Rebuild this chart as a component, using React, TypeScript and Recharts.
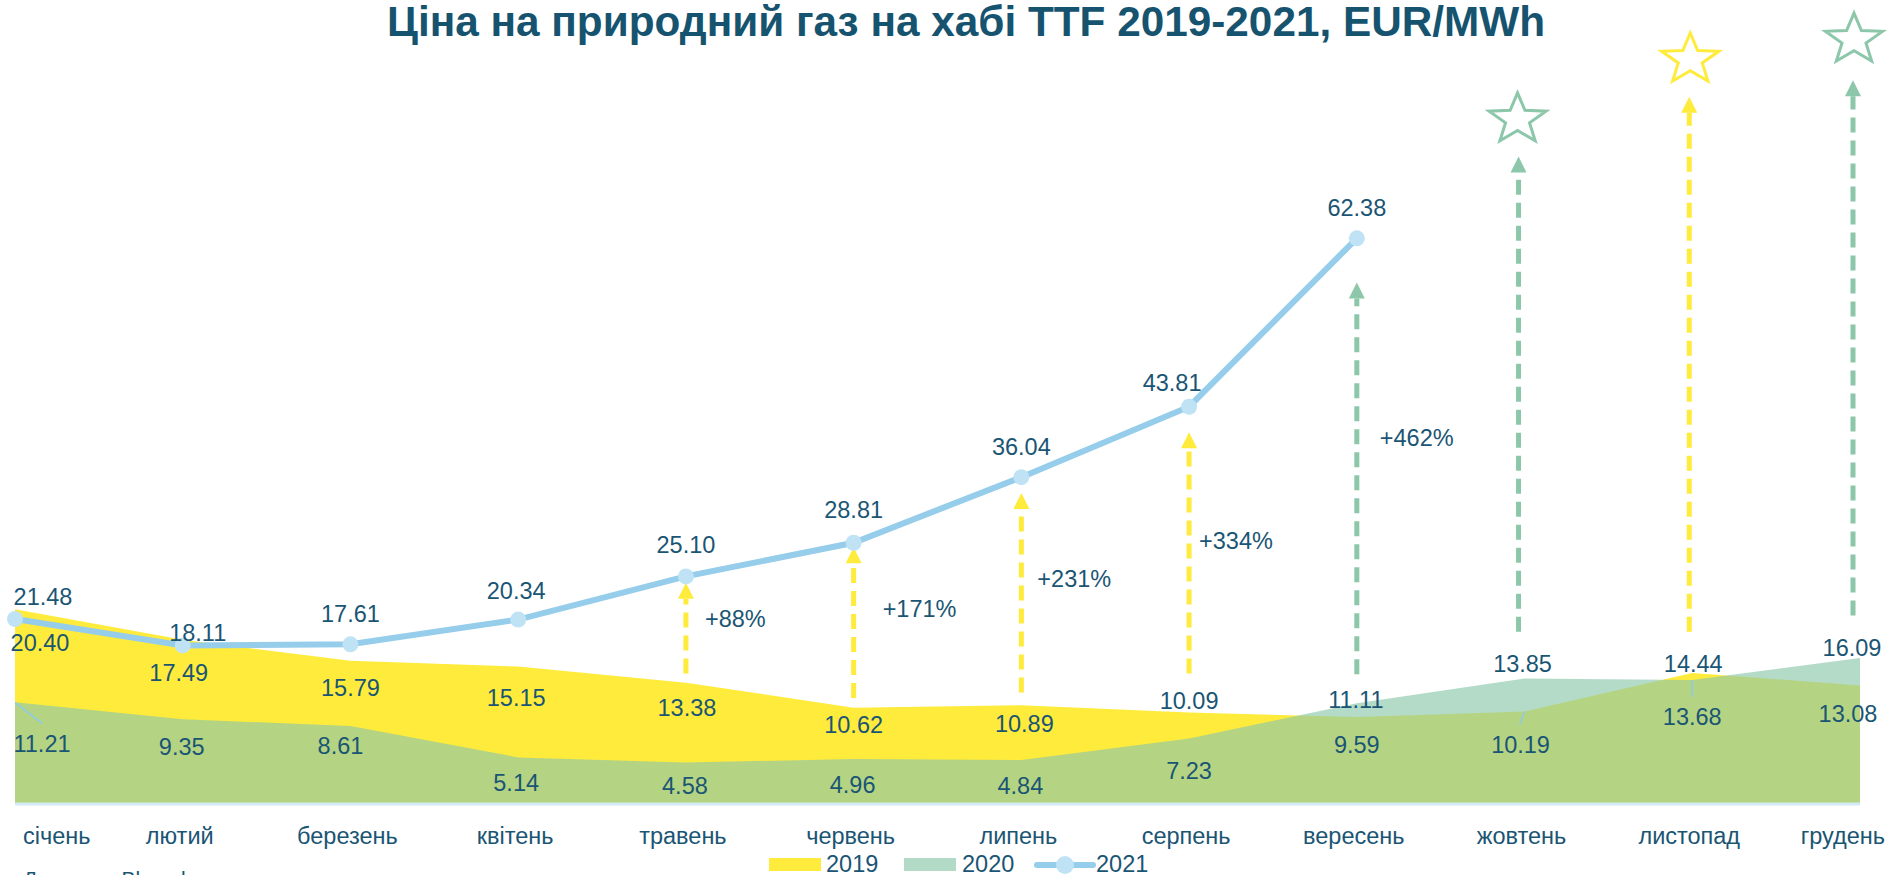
import { ComposedChart, Area, Line, XAxis, YAxis, LabelList, ReferenceLine, ReferenceDot } from 'recharts'

const MONTHS = ['січень', 'лютий', 'березень', 'квітень', 'травень', 'червень', 'липень', 'серпень', 'вересень', 'жовтень', 'листопад', 'грудень']
const PRICES_2019 = [21.48, 18.11, 15.79, 15.15, 13.38, 10.62, 10.89, 10.09, 9.59, 10.19, 14.44, 13.08]
const PRICES_2020 = [11.21, 9.35, 8.61, 5.14, 4.58, 4.96, 4.84, 7.23, 11.11, 13.85, 13.68, 16.09]
const PRICES_2021 = [20.40, 17.49, 17.61, 20.34, 25.10, 28.81, 36.04, 43.81, 62.38, null, null, null]

// стрілки: приріст 2021 до 2019 / 2020
const ARROW_MONTHS = ['травень', 'червень', 'липень', 'серпень', 'вересень', 'жовтень', 'листопад', 'грудень']
const ARROW_FROM = [14.4, 11.7, 12.3, 14.4, 14.3, 19.0, 19.0, 20.8]
const ARROW_TO = [24.4, 28.3, 34.3, 41.0, 57.5, 71.4, 78.0, 79.8]
const ARROW_BASE = ['2019', '2019', '2019', '2019', '2020', '2020', '2019', '2020']
const GROWTH_LABELS = ['+88%', '+171%', '+231%', '+334%', '+462%']
const GROWTH_Y = [20.4, 21.5, 24.9, 29.0, 40.4]
const STAR_MONTHS = ['жовтень', 'листопад', 'грудень']
const STAR_Y = [75.5, 82.1, 84.3]
const STAR_BASE = ['2020', '2019', '2020']

// зсуви підписів (px)
const DY_2019 = [-13, -7, 27, 31, 25, 17, 18, -12, 28, 33, -10, 28]
const DX_2019 = [28, 15, 0, -2, 1, 0, 3, 0, 0, -4, 1, -12]
const DY_2020 = [41, 27, 20, 25, 23, 26, 25, 32, -4, -15, 37, -11]
const DX_2020 = [27, -1, -10, -2, -1, -1, -1, 0, -1, -2, 0, -8]
const DY_2021 = [24, 27, -31, -29, -32, -33, -31, -24, -31]
const DX_2021 = [25, -4, 0, -2, 0, 0, 0, -17, 0]
const LEAD_2019: Record<number, number[]> = { 9: [-5, 13] }
const LEAD_2020: Record<number, number[]> = { 0: [27, 21], 10: [0, 17] }
const GROWTH_DX = [19, 29, 16, 10, 23]
const ARROW_DX = [0, 0, 0, 0, 0, -6, -3, -7]
const STAR_DX = [-7, -2, -6]

const TEXT = '#1a5574'
const YELLOW = '#FFEB3B'
const GREEN = '#8CC7AA'
const LINE = '#95CDEB'
const DOT = '#BFE3F5'
const FONT = "'Liberation Sans', Arial, sans-serif"

const data = MONTHS.map((m, i) => ({
  month: m,
  y2019: PRICES_2019[i],
  y2020: PRICES_2020[i],
  y2021: PRICES_2021[i],
}))

const baseColor = (b: string) => (b === '2019' ? YELLOW : GREEN)

const makeLabel = (values: (number | null)[], dxs: number[], dys: number[], leads: Record<number, number[]> = {}) => (p: any) => {
  const x = p.x ?? p.viewBox?.x
  const y = p.y ?? p.viewBox?.y
  const idx = p.index ?? values.indexOf(p.value)
  if (p.value == null || x == null) return null
  const lead = leads[idx]
  return (
    <g key={`l-${idx}`}>
      {lead && <line x1={x} y1={y} x2={x + lead[0]} y2={y + lead[1]} stroke="#8ecbe9" strokeWidth={1.5} />}
      <text x={x + (dxs[idx] || 0)} y={y + (dys[idx] || 0)} dy="0.36em" textAnchor="middle"
        fontSize={23.5} fill={TEXT} fontFamily={FONT}>
        {Number(p.value).toFixed(2)}
      </text>
    </g>
  )
}

const arrowShape = (color: string, dx: number) => (props: any) => {
  const { x1, y1, y2 } = props
  const x = x1 + dx
  const head = 16
  return (
    <g>
      <line x1={x} y1={y1} x2={x} y2={y2 + head} stroke={color} strokeWidth={5} strokeDasharray="15 8" />
      <polygon points={`${x},${y2} ${x - 8},${y2 + head} ${x + 8},${y2 + head}`} fill={color} />
    </g>
  )
}

const starShape = (color: string, dx: number) => (props: any) => {
  const cx = props.cx + dx
  const cy = props.cy
  const pts: string[] = []
  for (let k = 0; k < 10; k++) {
    const a = -Math.PI / 2 + (k * Math.PI) / 5
    const rr = k % 2 === 0 ? 1 : 0.42
    pts.push(`${cx + Math.cos(a) * 30 * rr},${cy + Math.sin(a) * 26.5 * rr}`)
  }
  return <polygon points={pts.join(' ')} fill="#fff" stroke={color} strokeWidth={3} />
}

const textShape = (label: string, dx: number) => (props: any) => (
  <text x={props.cx + dx} y={props.cy} dy="0.36em" fontSize={23.5} fill={TEXT} fontFamily={FONT}>{label}</text>
)

const MonthTick = (p: any) => {
  const i = MONTHS.indexOf(p.payload.value)
  let anchor: 'start' | 'middle' | 'end' = 'middle'
  let x = p.x - 3
  if (i === 0) { anchor = 'start'; x = p.x + 8 }
  if (i === MONTHS.length - 1) { anchor = 'end'; x = p.x + 25 }
  return (
    <text x={x} y={p.y + 40} textAnchor={anchor} fontSize={23.5} fill={TEXT} fontFamily={FONT}>
      {p.payload.value}
    </text>
  )
}

export default function App() {
  return (
    <div style={{ position: 'absolute', left: 0, top: 0, width: 1889, height: 875, overflow: 'hidden', background: '#fff', fontFamily: FONT }}>
      <ComposedChart width={1889} height={875} data={data} margin={{ top: 6, right: 29, left: 15, bottom: 41 }}>
        <XAxis dataKey="month" scale="point" height={30} tickSize={0} tickMargin={0} tickLine={false}
          axisLine={{ stroke: '#D4EAF6', strokeWidth: 3 }} tick={<MonthTick />} interval={0} />
        <YAxis hide domain={[0, 88]} />
        <Area dataKey="y2019" fill={YELLOW} fillOpacity={1} stroke="none" isAnimationActive={false} />
        <Area dataKey="y2020" fill={GREEN} fillOpacity={0.65} stroke="none" isAnimationActive={false} />
        {ARROW_MONTHS.map((m, i) => (
          <ReferenceLine key={`a-${m}`} segment={[{ x: m, y: ARROW_FROM[i] }, { x: m, y: ARROW_TO[i] }]}
            shape={arrowShape(baseColor(ARROW_BASE[i]), ARROW_DX[i])} />
        ))}
        {STAR_MONTHS.map((m, i) => (
          <ReferenceDot key={`s-${m}`} x={m} y={STAR_Y[i]} r={1} shape={starShape(baseColor(STAR_BASE[i]), STAR_DX[i])} />
        ))}
        {GROWTH_LABELS.map((t, i) => (
          <ReferenceDot key={`g-${t}`} x={ARROW_MONTHS[i]} y={GROWTH_Y[i]} r={1} shape={textShape(t, GROWTH_DX[i])} />
        ))}
        <Line dataKey="y2021" stroke={LINE} strokeWidth={6} isAnimationActive={false}
          dot={{ r: 8, fill: DOT, stroke: DOT, strokeWidth: 0 }} activeDot={false}>
          <LabelList dataKey="y2021" content={makeLabel(PRICES_2021, DX_2021, DY_2021)} />
        </Line>
        <Line dataKey="y2019" stroke="none" dot={false} activeDot={false} isAnimationActive={false} legendType="none">
          <LabelList dataKey="y2019" content={makeLabel(PRICES_2019, DX_2019, DY_2019, LEAD_2019)} />
        </Line>
        <Line dataKey="y2020" stroke="none" dot={false} activeDot={false} isAnimationActive={false} legendType="none">
          <LabelList dataKey="y2020" content={makeLabel(PRICES_2020, DX_2020, DY_2020, LEAD_2020)} />
        </Line>
      </ComposedChart>
      <svg width={1889} height={875} style={{ position: 'absolute', left: 0, top: 0, pointerEvents: 'none' }}>
        <text x={966} y={36} textAnchor="middle" fontSize={42.3} fontWeight="bold" fill="#16536F" fontFamily={FONT}>
          Ціна на природний газ на хабі TTF 2019-2021, EUR/MWh
        </text>
        <rect x={769} y={858} width={52} height={13} fill={YELLOW} />
        <text x={826} y={872} fontSize={23.5} fill={TEXT} fontFamily={FONT}>2019</text>
        <rect x={904} y={858} width={52} height={13} fill="#B3DAC7" />
        <text x={962} y={872} fontSize={23.5} fill={TEXT} fontFamily={FONT}>2020</text>
        <line x1={1037} y1={865} x2={1093} y2={865} stroke={LINE} strokeWidth={6} strokeLinecap="round" />
        <circle cx={1065} cy={865} r={9} fill={DOT} />
        <text x={1096} y={872} fontSize={23.5} fill={TEXT} fontFamily={FONT}>2021</text>
        <text x={23} y={886} fontSize={21} fill={TEXT} fontFamily={FONT}>Джерело: Bloomberg</text>
      </svg>
    </div>
  )
}
